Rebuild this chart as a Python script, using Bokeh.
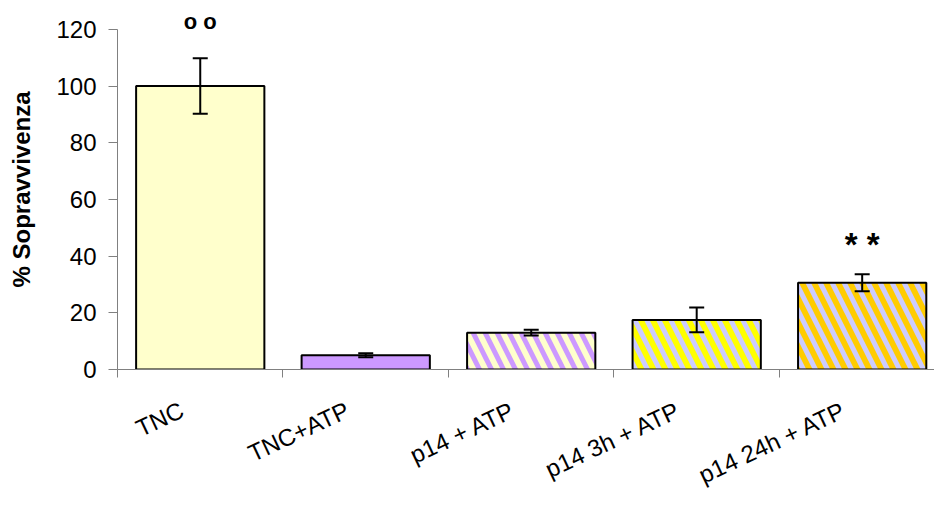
import math
from bokeh.plotting import figure
from bokeh.models import (ColumnDataSource, Range1d, FixedTicker, Whisker, TeeHead, Label)
from bokeh.embed import file_html
from bokeh.resources import INLINE

# ---- data ----
categories = ["TNC", "TNC+ATP", "p14 + ATP", "p14 3h + ATP", "p14 24h + ATP"]
survival = [100.0, 5.0, 13.0, 17.5, 30.6]
errors = [9.8, 0.7, 1.0, 4.4, 3.0]
fill_colors = ["#FFFFCC", "#CC99FF", "#FFFFCC", "#FFFF00", "#FFCC00"]
hatch_colors = ["#CCCCFF", "#CC99FF", "#CC99FF", "#CCCCFF", "#CCCCFF"]
hatch_patterns = [" ", " ", "\\", "\\", "\\"]
y_ticks = [0, 20, 40, 60, 80, 100, 120]
annotations = {0: "o o", 4: "* *"}

FONT = "Liberation Sans"
xs = list(range(len(categories)))
src = ColumnDataSource(dict(
    x=xs, top=survival,
    upper=[v + e for v, e in zip(survival, errors)],
    lower=[v - e for v, e in zip(survival, errors)],
    fill=fill_colors, hcol=hatch_colors, hpat=hatch_patterns,
))

p = figure(width=934, height=507, output_backend="svg", toolbar_location=None,
           x_range=Range1d(-0.5, 4.437), y_range=Range1d(0, 127),
           min_border_left=117, min_border_right=0, min_border_top=9, min_border_bottom=138)
p.outline_line_color = None
p.xgrid.visible = False
p.ygrid.visible = False
p.background_fill_color = "white"

p.vbar(x="x", top="top", bottom=0, width=0.775, source=src,
       fill_color="fill", line_color="black", line_width=2,
       hatch_pattern="hpat", hatch_color="hcol", hatch_scale=24, hatch_weight=5)

wh = Whisker(base="x", upper="upper", lower="lower", source=src,
             line_color="black", line_width=2, level="overlay",
             upper_head=TeeHead(size=15, line_width=2, line_color="black"),
             lower_head=TeeHead(size=15, line_width=2, line_color="black"))
p.add_layout(wh)

for idx, txt in annotations.items():
    p.add_layout(Label(x=xs[idx], y=survival[idx] + errors[idx], text=txt,
                       y_offset=37 if idx == 0 else 30,
                       text_align="center", text_baseline="middle",
                       text_font=FONT, text_font_style="bold",
                       text_font_size="22px" if idx == 0 else "33px", text_color="black"))

# y axis
ya = p.yaxis[0]
ya.ticker = FixedTicker(ticks=y_ticks)
ya.bounds = (0, 120)
ya.axis_label = "% Sopravvivenza"
ya.axis_label_text_font = FONT
ya.axis_label_text_font_style = "bold"
ya.axis_label_text_font_size = "24px"
ya.axis_label_text_color = "black"
ya.axis_label_standoff = 18
ya.major_label_text_font = FONT
ya.major_label_text_font_size = "24px"
ya.major_label_text_color = "black"
ya.major_label_standoff = 12
ya.axis_line_color = "#808080"
ya.major_tick_line_color = "#808080"
ya.major_tick_out = 9
ya.major_tick_in = 0
ya.minor_tick_line_color = None

# x axis: labels sit slightly left of the category centre, as in the original
label_shift = 0.11
label_ticks = [i - label_shift for i in xs]
xa = p.xaxis[0]
xa.ticker = FixedTicker(ticks=label_ticks, minor_ticks=[i - 0.5 for i in range(len(categories) + 1)])
xa.major_label_overrides = {t: c for t, c in zip(label_ticks, categories)}
xa.major_label_orientation = 0.44
xa.major_label_text_font = FONT
xa.major_label_text_font_size = "24px"
xa.major_label_text_color = "black"
xa.major_label_standoff = 31
xa.axis_line_color = "#808080"
xa.major_tick_line_color = None
xa.major_tick_out = 0
xa.major_tick_in = 0
xa.minor_tick_line_color = "#808080"
xa.minor_tick_out = 8
xa.minor_tick_in = 0

open("out.html", "w").write(file_html(p, INLINE))
